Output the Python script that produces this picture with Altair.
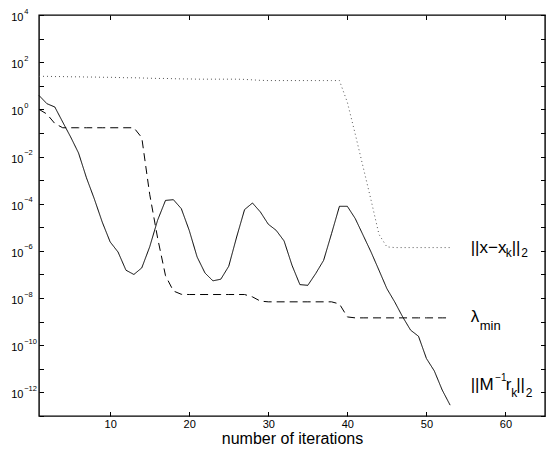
import altair as alt
import pandas as pd

# ---------------- data ----------------
iters = list(range(1, 54))

# log10 of ||M^-1 r_k||_2 (solid)
log_resid = [0.59, 0.24, 0.10, -0.54, -1.17, -1.85, -2.90, -3.80, -4.78, -5.62,
             -6.05, -6.82, -7.00, -6.72, -5.83, -4.70, -3.86, -3.83, -4.21, -5.13,
             -6.26, -6.94, -7.27, -7.20, -6.65, -5.41, -4.25, -3.97, -4.35, -4.87,
             -5.13, -5.58, -6.61, -7.43, -7.46, -6.96, -6.40, -5.27, -4.11, -4.11,
             -4.63, -5.34, -6.05, -6.82, -7.60, -8.17, -8.80, -9.36, -9.62, -10.56,
             -11.09, -11.90, -12.54]

# log10 of lambda_min (dashed)
log_lambda = [0.00, -0.20, -0.60, -0.78, -0.78, -0.78, -0.78, -0.78, -0.78, -0.78,
              -0.78, -0.78, -0.78, -1.20, -3.60, -5.45, -7.05, -7.70, -7.84, -7.85,
              -7.85, -7.85, -7.85, -7.85, -7.85, -7.85, -7.85, -7.95, -8.13, -8.16,
              -8.16, -8.16, -8.16, -8.16, -8.16, -8.16, -8.16, -8.16, -8.25, -8.80,
              -8.84, -8.84, -8.84, -8.84, -8.84, -8.84, -8.84, -8.84, -8.84, -8.84,
              -8.84, -8.84, -8.84]

# log10 of ||x - x_k||_2 (dotted)
log_err = [1.40, 1.40, 1.39, 1.39, 1.38, 1.38, 1.37, 1.37, 1.36, 1.36,
           1.35, 1.34, 1.34, 1.33, 1.32, 1.31, 1.31, 1.30, 1.29, 1.29,
           1.28, 1.28, 1.28, 1.28, 1.28, 1.28, 1.27, 1.25, 1.23, 1.22,
           1.22, 1.22, 1.22, 1.22, 1.22, 1.22, 1.22, 1.22, 1.22, 0.30,
           -1.05, -2.45, -3.85, -5.30, -5.83, -5.86, -5.86, -5.86, -5.86, -5.86,
           -5.86, -5.86, -5.86]

series_names = ["resid", "lambda", "err"]
x_ticks = [10, 20, 30, 40, 50, 60]
y_exponents = list(range(-13, 5))
x_domain = [1, 65]
y_domain = [1e-13, 1e4]

label_x = 55.6
label_log_y = [-5.86, -8.84, -11.7]

# ---------------- build tables ----------------
rows = []
for name, logs in zip(series_names, [log_resid, log_lambda, log_err]):
    for i, v in zip(iters, logs):
        rows.append({"iter": i, "value": 10 ** v, "series": name})
df = pd.DataFrame(rows)

lab_df = pd.DataFrame({"x": [label_x] * 3,
                       "y": [10 ** v for v in label_log_y],
                       "id": [0, 1, 2]})

FONT = "Liberation Sans"
xs = alt.Scale(domain=x_domain, nice=False, zero=False)
ys = alt.Scale(type="log", domain=y_domain, nice=False)
y_vals = [10.0 ** e for e in y_exponents]

E = "round(log(datum.value)/LN10)"
base_expr = f"{E} % 2 == 0 ? '10' : ''"
exp_expr = f"{E} % 2 == 0 ? ({E} < 0 ? '\u2212' + (-{E}) : '' + {E}) : ''"

TK = 4.5

lines = alt.Chart(df).mark_line(strokeWidth=1).encode(
    x=alt.X("iter:Q", scale=xs,
            axis=alt.Axis(values=x_ticks, orient="bottom", offset=-TK, tickSize=TK,
                          domain=False, grid=False, labelPadding=2.5, labelFontSize=11,
                          labelFont=FONT, title="number of iterations",
                          titleFont=FONT, titleFontSize=16, titleFontWeight="normal",
                          titlePadding=1, labelColor="black", titleColor="black",
                          tickColor="black")),
    y=alt.Y("value:Q", scale=ys,
            axis=alt.Axis(values=y_vals, orient="left", offset=-TK, tickSize=TK,
                          domain=False, grid=False, labelExpr=base_expr,
                          labelPadding=16, labelBaseline="alphabetic", labelOffset=5.5,
                          labelFontSize=11, labelFont=FONT, labelColor="black",
                          tickColor="black", title=None)),
    strokeDash=alt.StrokeDash("series:N",
                              scale=alt.Scale(domain=series_names,
                                              range=[[1, 0], [8, 5], [1, 3]]),
                              legend=None),
    color=alt.Color("series:N",
                    scale=alt.Scale(domain=series_names,
                                    range=["black", "black", "#555555"]),
                    legend=None),
)

ghost = alt.Chart(df).mark_point(opacity=0).encode(
    x=alt.X("iter:Q", scale=xs,
            axis=alt.Axis(values=x_ticks, orient="top", offset=-TK, tickSize=TK,
                          domain=False, labels=False, grid=False, title=None,
                          tickColor="black")),
    y=alt.Y("value:Q", scale=ys,
            axis=alt.Axis(values=y_vals, orient="right", offset=-TK, tickSize=TK,
                          domain=False, labels=False, grid=False, title=None,
                          tickColor="black")),
)

exps = alt.Chart(df).mark_point(opacity=0).encode(
    x=alt.X("iter:Q", scale=xs, axis=None),
    y=alt.Y("value:Q", scale=ys,
            axis=alt.Axis(values=y_vals, orient="left", ticks=False, tickSize=0,
                          domain=False, grid=False, labelExpr=exp_expr,
                          labelAlign="left", labelPadding=15.3,
                          labelBaseline="alphabetic", labelOffset=-2,
                          labelFontSize=7.5, labelFont=FONT, labelColor="black",
                          title=None)),
)


def seg(idx, text, dx, dy, size):
    return alt.Chart(lab_df).transform_filter(f"datum.id == {idx}").mark_text(
        text=text, align="left", baseline="alphabetic", dx=dx, dy=dy,
        fontSize=size, font=FONT, color="black"
    ).encode(
        x=alt.X("x:Q", scale=xs, axis=None),
        y=alt.Y("y:Q", scale=ys, axis=None),
    )


segs = [
    seg(0, "||x\u2212x", 0, 5, 17), seg(0, "k", 35, 9.8, 12),
    seg(0, "||", 41, 5, 17), seg(0, "2", 50.5, 9.8, 12),
    seg(1, "\u03bb", 0, 4.6, 17), seg(1, "min", 9, 12.3, 13),
    seg(2, "||M", 0, 4.4, 17), seg(2, "\u22121", 24.5, -4.6, 10),
    seg(2, "r", 35, 4.4, 17), seg(2, "k", 40.5, 11.7, 12),
    seg(2, "||", 45.5, 4.4, 17), seg(2, "2", 55, 11.7, 12),
]

chart = alt.layer(lines, ghost, exps, *segs).resolve_scale(
    x="shared", y="shared"
).resolve_axis(
    x="independent", y="independent"
).properties(
    width=506, height=401,
    background="white",
    autosize=alt.AutoSizeParams(type="none"),
    padding={"left": 31, "top": 7, "right": 1, "bottom": 31},
).configure_view(
    stroke="black", strokeWidth=1.4
)

chart.save("out.html", embed_options={"renderer": "svg", "actions": False})
